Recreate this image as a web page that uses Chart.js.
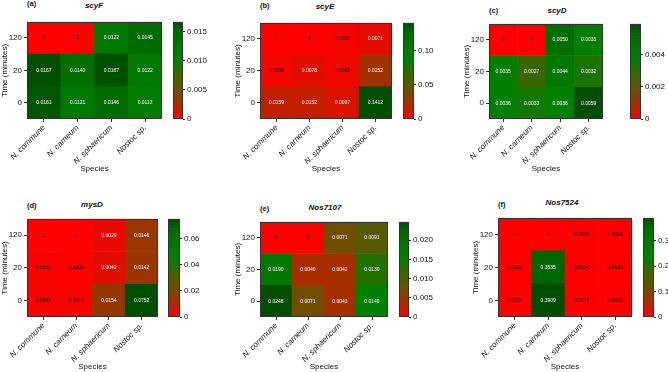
<!DOCTYPE html>
<html>
<head>
<meta charset="utf-8">
<script src="https://cdn.jsdelivr.net/npm/chart.js@4.4.1/dist/chart.umd.min.js"></script>
<style>
  body { margin: 0; background: #fff; width: 668px; height: 372px; position: relative; overflow: hidden; font-family: "Liberation Sans", Arial, sans-serif; }
  canvas { position: absolute; }
  .lbl { position: absolute; font-size: 7.5px; font-weight: bold; line-height: 1; color: #111; }
  .gene { position: absolute; font-size: 8px; font-weight: bold; font-style: italic; line-height: 1; color: #111; transform: translateX(-50%); white-space: nowrap; }
</style>
</head>
<body>
<script>
// species on x, sampling time on y (bottom row first)
const species = ["N. commune", "N. carneum", "N. sphaericum", "Nostoc sp."];
const times = ["0", "20", "120"];

// one row per time point : 0, 20, 120 minutes
const scyF = [
  [0.0161, 0.0121, 0.0146, 0.0112],
  [0.0167, 0.0140, 0.0167, 0.0122],
  [0, 0, 0.0122, 0.0145]
];
const scyE = [
  [0.0159, 0.0152, 0.0097, 0.1412],
  [0.0035, 0.0078, 0.0043, 0.0252],
  [0, 0, 0.0026, 0.0071]
];
const scyD = [
  [0.0036, 0.0033, 0.0036, 0.0059],
  [0.0035, 0.0027, 0.0044, 0.0032],
  [0, 0, 0.0050, 0.0035]
];
const mysD = [
  [0.0013, 0.0015, 0.0154, 0.0752],
  [0.0013, 0.0003, 0.0042, 0.0142],
  [0, 0, 0.0029, 0.0146]
];
const nos7107 = [
  [0.0248, 0.0071, 0.0043, 0.0149],
  [0.0190, 0.0040, 0.0042, 0.0130],
  [0, 0, 0.0071, 0.0091]
];
const nos7524 = [
  [0.0021, 0.3909, 0.0017, 0.0023],
  [0.0020, 0.3535, 0.0034, 0.0020],
  [0, 0, 0.0036, 0.0024]
];

// colour bar tick labels
const scyFTicks = ["0", "0.005", "0.010", "0.015"];
const scyETicks = ["0", "0.05", "0.10"];
const scyDTicks = ["0", "0.002", "0.004"];
const mysDTicks = ["0", "0.02", "0.04", "0.06"];
const nos7107Ticks = ["0", "0.005", "0.010", "0.015", "0.020"];
const nos7524Ticks = ["0", "0.1", "0.2", "0.3"];

// where each panel sits on the page
const panels = [
  { tag: "(a)", gene: "scyF", values: scyF, ticks: scyFTicks, L: 27, T: 21, R: 162, B: 119, cbL: 173, cbR: 183, labY: 4, titleX: 94, titleY: 6 },
  { tag: "(b)", gene: "scyE", values: scyE, ticks: scyETicks, L: 260, T: 22, R: 392, B: 119, cbL: 403, cbR: 414, labY: 6, titleX: 325, titleY: 7 },
  { tag: "(c)", gene: "scyD", values: scyD, ticks: scyDTicks, L: 489, T: 23, R: 603, B: 119, cbL: 630, cbR: 641, labY: 11, titleX: 557, titleY: 11 },
  { tag: "(d)", gene: "mysD", values: mysD, ticks: mysDTicks, L: 27, T: 218, R: 158, B: 317, cbL: 168, cbR: 180, labY: 206, titleX: 92, titleY: 205 },
  { tag: "(e)", gene: "Nos7107", values: nos7107, ticks: nos7107Ticks, L: 260, T: 221, R: 388, B: 317, cbL: 399, cbR: 409, labY: 209, titleX: 325, titleY: 208 },
  { tag: "(f)", gene: "Nos7524", values: nos7524, ticks: nos7524Ticks, L: 498, T: 217, R: 632, B: 317, cbL: 643, cbR: 654, labY: 205, titleX: 562, titleY: 203 }
];

const FONT = '"Liberation Sans", Arial, sans-serif';
Chart.defaults.font.family = FONT;
Chart.defaults.color = "#111";

// red -> brown -> olive -> green -> dark green
const heatStops = [
  [0, [255, 0, 0]],
  [0.05, [228, 12, 0]],
  [0.1, [200, 28, 0]],
  [0.18, [160, 50, 0]],
  [0.29, [110, 78, 0]],
  [0.37, [85, 90, 0]],
  [0.5, [45, 108, 0]],
  [0.6, [0, 128, 0]],
  [0.77, [0, 119, 0]],
  [0.9, [0, 104, 0]],
  [1, [0, 78, 0]]
];

function heatColor(t) {
  t = Math.max(0, Math.min(1, t));
  for (let i = 1; i < heatStops.length; i++) {
    const [t1, c1] = heatStops[i];
    const [t0, c0] = heatStops[i - 1];
    if (t <= t1) {
      const f = (t - t0) / (t1 - t0);
      const c = c0.map((v, k) => Math.round(v + (c1[k] - v) * f));
      return "rgb(" + c.join(",") + ")";
    }
  }
  return "rgb(0,78,0)";
}

// banded gradient for the colour bar
function barGradient(chart) {
  const a = chart.chartArea;
  if (!a) return "red";
  const g = chart.ctx.createLinearGradient(0, a.bottom, 0, a.top);
  const n = 32;
  for (let k = 0; k < n; k++) {
    const c = heatColor((k + 0.5) / n);
    g.addColorStop(k / n, c);
    g.addColorStop((k + 1) / n, c);
  }
  return g;
}

// values written in the cells
const heatText = {
  id: "heatText",
  afterDatasetsDraw(chart, args, opts) {
    const ctx = chart.ctx;
    ctx.save();
    ctx.font = "5px " + FONT;
    ctx.textAlign = "center";
    ctx.textBaseline = "middle";
    chart.data.datasets.forEach((ds, i) => {
      chart.getDatasetMeta(i).data.forEach((bar, j) => {
        const v = ds.values[j];
        ctx.fillStyle = v / opts.max > 0.035 ? "#fff" : "#000";
        ctx.fillText(v === 0 ? "0" : v.toFixed(4), bar.x, (bar.y + bar.base) / 2);
      });
    });
    ctx.restore();
  }
};

// box round the plot area
const frame = {
  id: "frame",
  afterDraw(chart) {
    const { ctx, chartArea: a } = chart;
    ctx.save();
    ctx.strokeStyle = "#333";
    ctx.lineWidth = 1;
    ctx.strokeRect(Math.round(a.left) + 0.5, Math.round(a.top) + 0.5, Math.round(a.width) - 1, Math.round(a.height) - 1);
    ctx.restore();
  }
};

function makeCanvas(left, top, w, h) {
  const cv = document.createElement("canvas");
  cv.width = w;
  cv.height = h;
  cv.style.left = left + "px";
  cv.style.top = top + "px";
  cv.style.width = w + "px";
  cv.style.height = h + "px";
  document.body.appendChild(cv);
  return cv;
}

function addText(cls, text, x, y) {
  const d = document.createElement("div");
  d.className = cls;
  d.textContent = text;
  d.style.left = x + "px";
  d.style.top = y + "px";
  document.body.appendChild(d);
}

const PAD_TOP = 6, Y_W = 27, X_H = 55;

panels.forEach(p => {
  const max = Math.max(...p.values.flat());
  const h = PAD_TOP + (p.B - p.T) + X_H;

  // heatmap
  const cv = makeCanvas(p.L - Y_W, p.T - PAD_TOP, Y_W + (p.R - p.L) + 2, h);
  new Chart(cv, {
    type: "bar",
    data: {
      labels: species,
      datasets: p.values.map((row, i) => ({
        label: times[i],
        data: row.map(() => 1),
        values: row,
        backgroundColor: row.map(v => heatColor(v / max)),
        borderWidth: 0,
        barPercentage: 1,
        categoryPercentage: 1
      }))
    },
    options: {
      responsive: false,
      animation: false,
      events: [],
      layout: { padding: { top: PAD_TOP, right: 2, left: 0, bottom: 0 } },
      plugins: { legend: { display: false }, tooltip: { enabled: false }, heatText: { max: max } },
      scales: {
        x: {
          stacked: true,
          grid: { offset: false, drawOnChartArea: false, tickLength: 3, color: "#333" },
          border: { display: false },
          ticks: { autoSkip: false, maxRotation: 45, minRotation: 45, padding: 1, font: { size: 8, style: "italic" } },
          title: { display: true, text: "Species", padding: 0, font: { size: 8 } },
          afterFit: s => { s.height = X_H; }
        },
        y: {
          stacked: true,
          min: 0,
          max: times.length,
          afterBuildTicks: s => { s.ticks = times.map((t, i) => ({ value: i + 0.5 })); },
          ticks: { padding: 2, font: { size: 8 }, callback: v => times[Math.floor(v)] },
          grid: { drawOnChartArea: false, tickLength: 3, color: "#333" },
          border: { display: false },
          title: { display: true, text: "Time (minutes)", padding: 0, font: { size: 8 } },
          afterFit: s => { s.width = Y_W; }
        }
      }
    },
    plugins: [heatText, frame]
  });

  // colour bar
  const cb = makeCanvas(p.cbL, p.T - PAD_TOP, (p.cbR - p.cbL) + 30, h);
  new Chart(cb, {
    type: "bar",
    data: {
      labels: [""],
      datasets: [{
        data: [max],
        backgroundColor: c => barGradient(c.chart),
        borderWidth: 0,
        barPercentage: 1,
        categoryPercentage: 1
      }]
    },
    options: {
      responsive: false,
      animation: false,
      events: [],
      layout: { padding: { top: PAD_TOP, right: 0, left: 0, bottom: 0 } },
      plugins: { legend: { display: false }, tooltip: { enabled: false } },
      scales: {
        x: {
          ticks: { display: false },
          grid: { display: false },
          border: { display: false },
          afterFit: s => { s.height = X_H; }
        },
        y: {
          position: "right",
          min: 0,
          max: max,
          afterBuildTicks: s => { s.ticks = p.ticks.map(t => ({ value: parseFloat(t) })); },
          ticks: { padding: 2, font: { size: 8 }, callback: (v, i) => p.ticks[i] },
          grid: { drawOnChartArea: false, tickLength: 2, color: "#222" },
          border: { display: false },
          afterFit: s => { s.width = 30; }
        }
      }
    },
    plugins: [frame]
  });

  addText("lbl", p.tag, p.L, p.labY - 4);
  addText("gene", p.gene, p.titleX, p.titleY - 4);
});
</script>
</body>
</html>
